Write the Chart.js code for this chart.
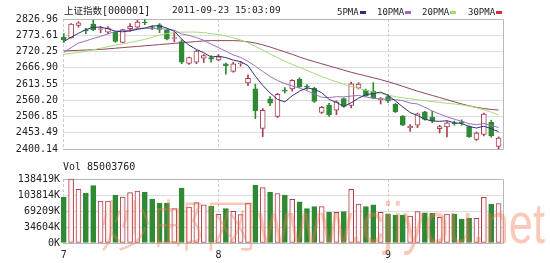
<!DOCTYPE html>
<html>
<head>
<meta charset="utf-8">
<script src="https://cdn.jsdelivr.net/npm/chart.js@4.4.0/dist/chart.umd.min.js"></script>
<style>
  body { margin: 0; background: #fff; width: 550px; height: 263px; overflow: hidden; position: relative; }
  canvas { position: absolute; left: 0; }
  #price { top: 0; }
  #vol { top: 160px; }
  .t { position: absolute; color: #222; white-space: pre; font-family: "DejaVu Sans Mono", monospace; font-size: 10px; line-height: 12px; }
  .cjk { font-family: "Noto Sans CJK SC", sans-serif; font-size: 9.5px; }
  .mk { display: inline-block; width: 6px; height: 3px; vertical-align: middle; margin-left: 1px; }
</style>
</head>
<body>
<canvas id="price" width="550" height="160"></canvas>
<canvas id="vol" width="550" height="103"></canvas>

<div class="t" style="left:64px;top:4px;"><span class="cjk">上证指数</span>[000001]</div>
<div class="t" style="left:172px;top:4px;font-size:9.5px;">2011-09-23 15:03:09</div>
<div class="t" style="left:337px;top:6px;font-size:9px;">5PMA<span class="mk" style="background:#30307a"></span></div>
<div class="t" style="left:377px;top:6px;font-size:9px;">10PMA<span class="mk" style="background:#9a66c8"></span></div>
<div class="t" style="left:422px;top:6px;font-size:9px;">20PMA<span class="mk" style="background:#9ee070"></span></div>
<div class="t" style="left:468px;top:6px;font-size:9px;">30PMA<span class="mk" style="background:#d03040"></span></div>
<div class="t" style="left:63px;top:161px;">Vol 85003760</div>

<script>
// daily K-line, 2011-07-01 .. 2011-09-23 (60 trading days)
const opens  = [2767,2765,2806,2791,2810,2793,2784,2784,2750,2795,2800,2817,2801,2808,2790,2763,2753,2681,2685,2698,
                2700,2693,2680,2655,2680,2617,2598,2468,2565,2507,2593,2597,2629,2606,2599,2520,2544,2528,2566,2543,
                2600,2593,2590,2562,2572,2547,2508,2470,2478,2522,2505,2467,2473,2486,2489,2474,2432,2448,2488,2409];
const highs  = [2779,2812,2818,2796,2823,2803,2802,2785,2793,2812,2823,2825,2804,2812,2795,2784,2759,2702,2724,2710,
                2707,2710,2682,2685,2687,2644,2613,2533,2572,2583,2602,2628,2634,2612,2603,2540,2550,2558,2568,2620,
                2618,2597,2618,2569,2580,2550,2510,2480,2518,2524,2524,2478,2490,2492,2496,2476,2456,2518,2495,2440];
const lows   = [2750,2764,2800,2779,2789,2782,2779,2750,2749,2786,2796,2808,2792,2782,2758,2752,2680,2678,2680,2684,
                2685,2690,2646,2652,2672,2608,2500,2441,2542,2503,2584,2590,2602,2596,2553,2517,2507,2513,2537,2535,
                2597,2573,2565,2548,2552,2520,2477,2458,2470,2495,2486,2453,2440,2478,2478,2438,2428,2443,2439,2401];
const closes = [2758,2810,2814,2788,2792,2795,2797,2753,2792,2803,2817,2815,2799,2793,2761,2766,2685,2700,2722,2707,
                2695,2703,2674,2680,2682,2632,2526,2527,2551,2580,2590,2626,2605,2603,2556,2537,2513,2555,2540,2614,
                2613,2575,2567,2566,2558,2522,2478,2475,2516,2497,2492,2474,2486,2483,2485,2440,2452,2515,2443,2436];
// volume in K
const volumes = [99000,138419,116000,107500,124000,90500,90500,103000,99500,108800,112500,110300,94500,86500,86500,74200,119000,77900,87200,82800,
                 79400,62000,74200,68600,61200,86500,124800,119600,110300,107000,103800,94500,89300,74200,78500,78500,66400,66400,67700,116100,
                 84300,78500,82800,66400,62700,60600,60600,58400,67700,65500,64200,55600,62700,62700,51900,53400,53400,98800,83700,85004];

const ma5  = [2753,2767,2780,2792,2800,2800,2795,2787,2785,2788,2793,2797,2804,2805,2797,2787,2761,2741,2727,2716,
              2702,2705,2700,2692,2687,2674,2639,2609,2584,2563,2555,2575,2590,2601,2596,2585,2563,2553,2540,2552,
              2567,2579,2582,2587,2576,2558,2538,2520,2510,2498,2492,2491,2493,2486,2484,2474,2469,2475,2467,2457];
const ma10 = [2717,2733,2748,2755,2763,2770,2778,2786,2789,2790,2796,2797,2795,2796,2793,2790,2778,2773,2766,2757,
              2744,2733,2721,2709,2701,2688,2672,2655,2638,2625,2615,2607,2600,2592,2580,2570,2569,2572,2571,2574,
              2576,2571,2567,2564,2564,2562,2559,2551,2548,2537,2525,2515,2506,2498,2491,2483,2480,2484,2477,2471];
const ma20 = [2711,2714,2717,2721,2726,2731,2736,2741,2745,2750,2755,2760,2767,2774,2779,2782,2784,2784,2784,2782,
              2779,2776,2771,2765,2758,2749,2737,2725,2712,2700,2688,2678,2668,2658,2648,2638,2629,2621,2613,2605,
              2599,2593,2587,2582,2577,2572,2568,2565,2562,2559,2556,2553,2550,2548,2545,2541,2536,2529,2521,2512];
const ma30 = [2722,2723,2724,2725,2726,2727,2729,2731,2733,2735,2737,2739,2741,2743,2745,2747,2749,2751,2753,2755,
              2756,2756,2756,2756,2755,2752,2748,2742,2735,2727,2719,2711,2702,2694,2687,2680,2673,2666,2659,2652,
              2646,2640,2634,2628,2621,2614,2606,2598,2590,2583,2576,2569,2562,2555,2548,2542,2537,2533,2530,2528];

const monthIdx = [0, 21, 44];
const monthLabels = ['7', '8', '9'];
const priceTicks = [2400.14,2453.49,2506.85,2560.20,2613.55,2666.90,2720.25,2773.61,2826.96];
const priceTickLabels = ['2400.14','2453.49','2506.85','2560.20','2613.55','2666.90','2720.25','2773.61','2826.96'];
const volTicks = [0,34604,69209,103814,138419];
const volTickLabels = ['0K','34604K','69209K','103814K','138419K'];

const RED = '#a8404e';
const GREEN = '#2f8a34';
const idx = opens.map((_, i) => i);
const up = idx.map(i => closes[i] >= opens[i]);
const tickFont = { family: 'DejaVu Sans Mono', size: 10 };

const frame = {
    id: 'frame',
    beforeDatasetsDraw(chart) {
        const { ctx, chartArea: a } = chart;
        ctx.save();
        ctx.strokeStyle = '#b8b8b8';
        ctx.lineWidth = 1;
        ctx.beginPath();
        ctx.moveTo(a.left, a.top + 0.5);
        ctx.lineTo(a.right + 0.5, a.top + 0.5);
        ctx.lineTo(a.right + 0.5, a.bottom + 0.5);
        ctx.lineTo(a.left, a.bottom + 0.5);
        ctx.stroke();
        ctx.restore();
    }
};

function maLine(label, values, color) {
    return {
        type: 'line', label: label, order: 0,
        data: values.map((v, i) => ({ x: i, y: v })),
        borderColor: color, borderWidth: 1, pointRadius: 0, tension: 0
    };
}

function xScale(showLabels) {
    return {
        type: 'linear', min: -0.1, max: 59.6, offset: false,
        afterBuildTicks: s => { s.ticks = monthIdx.map(v => ({ value: v })); },
        afterFit: s => { s.height = showLabels ? 20 : 0; },
        ticks: {
            display: showLabels, autoSkip: false, maxRotation: 0, padding: 6,
            font: tickFont, color: '#222',
            callback: (v, i) => monthLabels[i]
        },
        grid: { color: '#cccccc', drawTicks: false, offset: false },
        border: { display: false, dash: [3, 2] }
    };
}

new Chart(document.getElementById('price'), {
    type: 'bar',
    data: {
        datasets: [
            maLine('5PMA', ma5, '#30307a'),
            maLine('10PMA', ma10, '#9a70c0'),
            maLine('20PMA', ma20, '#a6dc7a'),
            maLine('30PMA', ma30, '#8e4656'),
            {
                label: 'body', order: 1, grouped: false, barThickness: 5, clip: 4,
                data: idx.map(i => ({ x: i, y: [opens[i], closes[i]] })),
                backgroundColor: idx.map(i => up[i] ? '#ffffff' : GREEN),
                borderColor: idx.map(i => up[i] ? RED : GREEN),
                borderWidth: 1, borderSkipped: false
            },
            {
                label: 'wick', order: 2, grouped: false, barThickness: 1, clip: 4,
                data: idx.map(i => ({ x: i, y: [lows[i], highs[i]] })),
                backgroundColor: idx.map(i => up[i] ? RED : GREEN)
            }
        ]
    },
    options: {
        responsive: false, animation: false,
        layout: { padding: { left: 0, right: 47, top: 19, bottom: 3 } },
        plugins: { legend: { display: false }, tooltip: { enabled: false } },
        scales: {
            x: xScale(false),
            y: {
                min: 2400.14, max: 2826.96,
                afterBuildTicks: s => { s.ticks = priceTicks.map(v => ({ value: v })); },
                afterFit: s => { s.width = 63; },
                ticks: { font: tickFont, color: '#222', padding: 5, callback: (v, i) => priceTickLabels[i] },
                grid: { color: '#dcdcdc', drawTicks: false },
                border: { display: false }
            }
        }
    },
    plugins: [frame]
});

const watermark = {
    id: 'watermark',
    afterDatasetsDraw(chart) {
        const ctx = chart.ctx;
        ctx.save();
        ctx.fillStyle = 'rgba(242,120,80,0.4)';
        ctx.textBaseline = 'alphabetic';
        ctx.font = '300 56px "Noto Sans CJK SC"';
        ctx.fillText('炒邮网', 100, 86, 157);
        ctx.font = '58px "Liberation Sans"';
        ctx.fillText('www.cjiyou.net', 258, 83, 287);
        ctx.restore();
    }
};

new Chart(document.getElementById('vol'), {
    type: 'bar',
    data: {
        datasets: [{
            label: 'Vol', grouped: false, barThickness: 5, clip: 4,
            data: idx.map(i => ({ x: i, y: volumes[i] })),
            backgroundColor: idx.map(i => up[i] ? '#fff4f4' : GREEN),
            borderColor: idx.map(i => up[i] ? RED : GREEN),
            borderWidth: 1, borderSkipped: false
        }]
    },
    options: {
        responsive: false, animation: false,
        layout: { padding: { left: 0, right: 47, top: 19, bottom: 0 } },
        plugins: { legend: { display: false }, tooltip: { enabled: false } },
        scales: {
            x: xScale(true),
            y: {
                min: 0, max: 138419,
                afterBuildTicks: s => { s.ticks = volTicks.map(v => ({ value: v })); },
                afterFit: s => { s.width = 63; },
                ticks: { font: tickFont, color: '#222', padding: 3, callback: (v, i) => volTickLabels[i] },
                grid: { color: '#dcdcdc', drawTicks: false },
                border: { display: false }
            }
        }
    },
    plugins: [frame, watermark]
});
</script>
</body>
</html>
